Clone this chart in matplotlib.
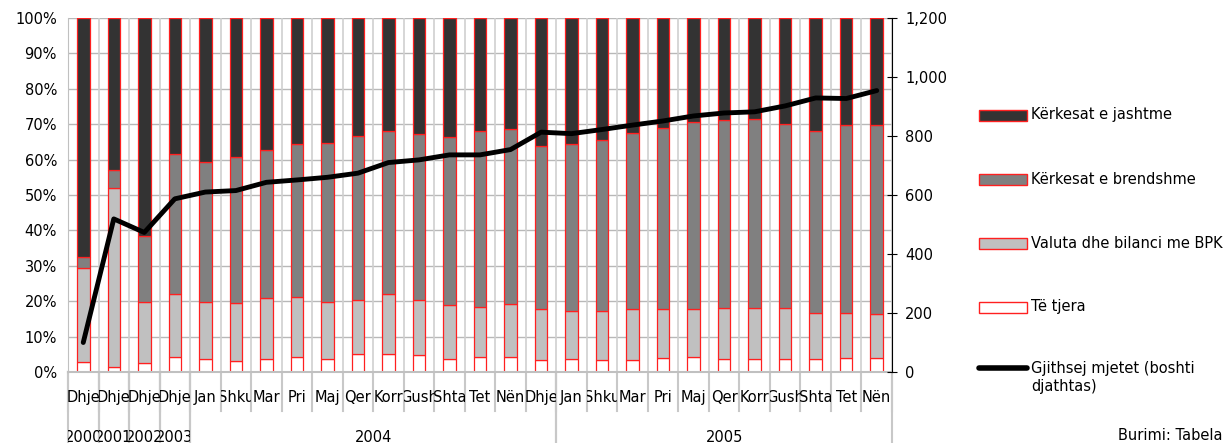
import matplotlib
matplotlib.use('Agg')
import matplotlib.pyplot as plt
import numpy as np
from matplotlib.patches import Rectangle
from matplotlib.lines import Line2D
from matplotlib.transforms import Bbox, TransformedBbox, blended_transform_factory
from matplotlib.ticker import PercentFormatter, FuncFormatter

plt.rcParams['font.family'] = ['DejaVu Sans']
plt.rcParams['font.size'] = 10.5

# category axis
months = ['Dhje', 'Dhje', 'Dhje', 'Dhje',
          'Jan', 'Shku', 'Mar', 'Pri', 'Maj', 'Qer', 'Korr', 'Gush', 'Shta', 'Tet', 'Nën', 'Dhje',
          'Jan', 'Shku', 'Mar', 'Pri', 'Maj', 'Qer', 'Korr', 'Gush', 'Shta', 'Tet', 'Nën']
years = ['2000', '2001', '2002', '2003', '2004', '2005']
year_start = [0, 1, 2, 3, 4, 16]
year_end = [0, 1, 2, 3, 15, 26]

# shares in % (tops of each stacked segment)
te_tjera = [2.8, 1.4, 2.6, 4.1, 3.8, 3.2, 3.8, 4.1, 3.8, 5.2, 5.1, 4.9, 3.8, 4.3, 4.1, 3.4,
            3.7, 3.5, 3.5, 3.9, 4.1, 3.6, 3.8, 3.7, 3.7, 3.9, 3.9]
valuta_top = [29.3, 52.0, 19.8, 22.0, 19.9, 19.6, 20.8, 21.1, 19.7, 20.3, 22.0, 20.2, 18.8, 18.3, 19.1, 17.7,
              17.1, 17.2, 17.9, 17.8, 17.7, 18.0, 18.1, 18.1, 16.7, 16.8, 16.5]
brendshme_top = [32.4, 57.0, 38.3, 61.6, 59.4, 60.6, 62.6, 64.4, 64.7, 66.7, 68.1, 67.1, 66.3, 68.0, 68.6, 63.8,
                 64.5, 65.5, 67.5, 69.0, 70.6, 71.1, 71.6, 70.1, 68.1, 69.8, 69.8]
valuta = [v - t for v, t in zip(valuta_top, te_tjera)]
brendshme = [b - v for b, v in zip(brendshme_top, valuta_top)]
jashtme = [100 - b for b in brendshme_top]

# total assets (right axis)
gjithsej = [100, 519, 473, 587, 610, 615, 643, 651, 660, 674, 710, 719, 736, 736, 754, 813,
            808, 822, 837, 851, 868, 878, 882, 902, 929, 927, 954]

labels = ['Kërkesat e jashtme', 'Kërkesat e brendshme', 'Valuta dhe bilanci me BPK', 'Të tjera',
          'Gjithsej mjetet (boshti\ndjathtas)']
colors = ['#333333', '#808080', '#c0c0c0', '#ffffff']

W, H = 1228, 443
fig = plt.figure(figsize=(W / 100, H / 100), dpi=100)
L, R, T, B = 68, 892, 18, 372
ax = fig.add_axes([L / W, 1 - B / H, (R - L) / W, (B - T) / H])

n = len(months)
x = np.arange(n)
ax.set_xlim(-0.5, n - 0.5)
ax.set_ylim(0, 100)

# grid
for yv in range(10, 101, 10):
    ax.axhline(yv, color='#b8b8b8', lw=1, zorder=0)
trans = blended_transform_factory(ax.transData, ax.transAxes)
for b in np.arange(-0.5, n, 1.0):
    ax.add_line(Line2D([b, b], [0, 1], transform=trans, color='#d0d0d0', lw=1.2, zorder=0))
    ax.add_line(Line2D([b, b], [0, -0.11], transform=trans, color='#c8c8c8', lw=1.5,
                       clip_on=False))
for s, e in zip(year_start, year_end):
    for b in (s - 0.5, e + 0.5):
        ax.add_line(Line2D([b, b], [0, -0.21], transform=trans, color='#c8c8c8', lw=1.5,
                           clip_on=False))

bw = 0.41
bottom = np.zeros(n)
for vals, c in zip([te_tjera, valuta, brendshme, jashtme], colors[::-1]):
    ax.bar(x, vals, bw, bottom=bottom, color=c, edgecolor='#ff2020', linewidth=0.9, zorder=2)
    bottom += np.array(vals)

ax.yaxis.set_major_formatter(PercentFormatter(decimals=0))
ax.set_yticks(range(0, 101, 10))
ax.tick_params(axis='y', length=0, pad=8)
ax.set_xticks([])
for sp in ['top', 'right']:
    ax.spines[sp].set_visible(False)
ax.spines['left'].set_color('#c0c0c0')
ax.spines['bottom'].set_color('#c0c0c0')
ax.spines['bottom'].set_linewidth(1.5)

# category labels clipped to their cells
for i, m in enumerate(months):
    t = ax.text(i, -0.073, m, transform=trans, ha='center', va='center', clip_on=True)
    t.set_clip_box(TransformedBbox(Bbox([[i - 0.5, -1], [i + 0.5, 0]]), trans))
for yr, s, e in zip(years, year_start, year_end):
    c = (s + e) / 2
    t = ax.text(c, -0.184, yr, transform=trans, ha='center', va='center', clip_on=True)
    t.set_clip_box(TransformedBbox(Bbox([[s - 0.5, -1], [e + 0.5, 0]]), trans))

ax2 = ax.twinx()
ax2.set_ylim(0, 1200)
ax2.set_yticks(range(0, 1201, 200))
ax2.yaxis.set_major_formatter(FuncFormatter(lambda v, p: f'{int(v):,}'))
ax2.plot(x, gjithsej, color='black', lw=3.5, solid_capstyle='round', solid_joinstyle='round', zorder=5)
for sp in ['top', 'left', 'bottom']:
    ax2.spines[sp].set_visible(False)
ax2.spines['right'].set_color('black')
ax2.tick_params(axis='y', direction='inout', length=7, pad=6)

# legend drawn at the right
ys = [115, 179, 243, 307]
for lab, c, yy in zip(labels[:4], colors, ys):
    fig.patches.append(Rectangle((979 / W, 1 - (yy + 5.5) / H), 48 / W, 11 / H,
                                 transform=fig.transFigure, facecolor=c, edgecolor='#ff2020', lw=1))
    fig.text(1031 / W, 1 - yy / H, lab, ha='left', va='center')
fig.lines.append(Line2D([979 / W, 1027 / W], [1 - 368 / H, 1 - 368 / H], transform=fig.transFigure,
                        color='black', lw=4, solid_capstyle='round'))
fig.text(1031 / W, 1 - 361 / H, labels[4], ha='left', va='top', linespacing=1.25)

fig.text(1222 / W, 1 - 436 / H, 'Burimi: Tabela', ha='right', va='center')

fig.savefig('out.png', dpi=100)
